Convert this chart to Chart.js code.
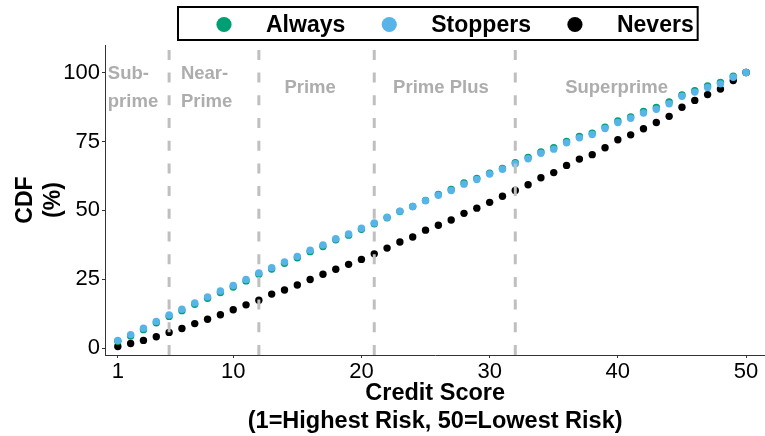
<!DOCTYPE html>
<html>
<head>
<meta charset="utf-8">
<script src="https://cdn.jsdelivr.net/npm/chart.js@4.4.1/dist/chart.umd.min.js"></script>
<style>
  html, body { margin: 0; padding: 0; background: #ffffff; overflow: hidden; width: 765px; height: 436px; }
  canvas { display: block; }
</style>
</head>
<body>
<canvas id="cdf" width="769" height="436"></canvas>
<script>
// Credit score buckets 1..50
const creditScores = Array.from({ length: 50 }, (_, i) => i + 1);

// Cumulative share (%) of each group at or below each credit score
const alwaysCdf = [
  2.5, 4.4, 6.7, 9.2, 11.5, 13.6, 15.9, 18.1, 20.2, 22.2,
  24.4, 26.8, 28.7, 30.8, 32.8, 35.0, 36.9, 39.3, 41.0, 43.1,
  45.1, 47.3, 49.6, 51.4, 53.6, 55.8, 57.6, 59.9, 61.6, 63.5,
  65.2, 67.3, 69.2, 71.2, 72.7, 75.0, 76.8, 78.0, 80.2, 82.4,
  83.9, 85.9, 87.3, 89.3, 91.9, 93.4, 95.1, 96.4, 98.7, 100
];
const stoppersCdf = [
  2.8, 4.9, 7.2, 9.7, 12.0, 14.1, 16.4, 18.6, 20.7, 22.7,
  24.9, 27.3, 29.2, 31.3, 33.3, 35.5, 37.4, 39.7, 41.4, 43.5,
  45.4, 47.5, 49.7, 51.4, 53.5, 55.5, 57.2, 59.5, 61.2, 63.2,
  64.9, 66.9, 68.7, 70.7, 72.2, 74.5, 76.3, 77.5, 79.7, 81.9,
  83.4, 85.3, 86.7, 88.7, 91.4, 92.9, 94.6, 95.9, 98.3, 100
];
const neversCdf = [
  0.6, 1.7, 2.8, 4.1, 5.7, 7.1, 8.9, 10.5, 12.1, 13.9,
  15.7, 17.4, 19.6, 21.1, 22.9, 24.9, 26.8, 28.6, 30.4, 32.2,
  34.2, 36.3, 38.5, 40.3, 42.8, 44.6, 46.5, 48.9, 50.8, 52.9,
  55.1, 57.2, 59.3, 61.8, 63.7, 66.3, 68.6, 70.2, 72.7, 75.6,
  77.4, 79.6, 81.9, 84.1, 87.4, 89.9, 92.0, 94.0, 97.1, 100
];

// Tick values
const xTicks = [1, 10, 20, 30, 40, 50];
const yTicks = [0, 25, 50, 75, 100];

// Risk tier boundaries (credit score) and tier names
const tierCutoffs = [5, 12, 21, 32];
const tierNames = [['Sub-', 'prime'], ['Near-', 'Prime'], ['Prime'], ['Prime Plus'], ['Superprime']];

// Where each tier name sits (data coordinates of its first line) and how it aligns
const tierLabelX = [0.22, 5.92, 16.0, 26.2, 39.9];
const tierLabelY = [99.6, 99.6, 94.6, 94.6, 94.6];
const tierLabelAlign = ['left', 'left', 'center', 'center', 'center'];

const seriesNames = ['Always', 'Stoppers', 'Nevers'];
const seriesColors = ['#009E73', '#56B4E9', '#000000'];

const FONT = '"Liberation Sans", Arial, Helvetica, sans-serif';

const toPoints = ys => creditScores.map((x, i) => ({ x, y: ys[i] }));

// Dashed tier boundaries, tier names and the boxed legend
const overlay = {
  id: 'overlay',
  afterDatasetsDraw(chart) {
    const { ctx, chartArea: a, scales: { x, y } } = chart;
    ctx.save();
    ctx.beginPath();
    ctx.rect(a.left, a.top, a.right - a.left, a.bottom - a.top);
    ctx.clip();
    ctx.strokeStyle = '#bfbfbf';
    ctx.lineWidth = 3;
    ctx.lineCap = 'butt';
    ctx.setLineDash([10, 12.7]);
    tierCutoffs.forEach(c => {
      const px = x.getPixelForValue(c);
      ctx.beginPath();
      ctx.moveTo(px, a.bottom);
      ctx.lineTo(px, a.top);
      ctx.stroke();
    });
    ctx.restore();

    ctx.save();
    ctx.fillStyle = '#adadad';
    ctx.font = 'bold 18.5px ' + FONT;
    ctx.textBaseline = 'middle';
    tierNames.forEach((lines, i) => {
      const px = x.getPixelForValue(tierLabelX[i]);
      const py = y.getPixelForValue(tierLabelY[i]);
      ctx.textAlign = tierLabelAlign[i];
      lines.forEach((t, k) => ctx.fillText(t, px, py + k * 28));
    });
    ctx.restore();
  },
  afterDraw(chart) {
    const { ctx } = chart;
    ctx.save();
    ctx.font = 'bold 23px ' + FONT;
    ctx.textBaseline = 'alphabetic';
    ctx.textAlign = 'left';
    const boxLeft = 178, boxTop = 7, boxBottom = 40;
    let cursor = boxLeft + 46;
    seriesNames.forEach((name, i) => {
      ctx.fillStyle = seriesColors[i];
      ctx.beginPath();
      ctx.arc(cursor, 24.5, 7.6, 0, Math.PI * 2);
      ctx.fill();
      const tx = cursor + 42;
      ctx.fillStyle = '#000000';
      ctx.fillText(name, tx, 32);
      cursor = tx + ctx.measureText(name).width + 44;
    });
    const boxRight = cursor - 44 + 4;
    ctx.strokeStyle = '#000000';
    ctx.lineWidth = 2;
    ctx.strokeRect(boxLeft, boxTop, boxRight - boxLeft, boxBottom - boxTop);
    ctx.restore();
  }
};

const datasets = [
  { label: seriesNames[0], data: toPoints(alwaysCdf), backgroundColor: seriesColors[0], order: 1 },
  { label: seriesNames[1], data: toPoints(stoppersCdf), backgroundColor: seriesColors[1], order: 0 },
  { label: seriesNames[2], data: toPoints(neversCdf), backgroundColor: seriesColors[2], order: 2 }
].map(d => Object.assign(d, {
  pointRadius: 3.7,
  pointHoverRadius: 3.7,
  pointBorderWidth: 0,
  borderWidth: 0,
  showLine: false
}));

new Chart(document.getElementById('cdf'), {
  type: 'scatter',
  data: { datasets },
  options: {
    responsive: false,
    devicePixelRatio: 1,
    animation: false,
    events: [],
    layout: { padding: { top: 45, left: 0, right: 0, bottom: 0 } },
    plugins: {
      legend: { display: false },
      tooltip: { enabled: false }
    },
    scales: {
      x: {
        type: 'linear',
        min: 0,
        max: 51.5,
        afterBuildTicks: s => { s.ticks = xTicks.map(v => ({ value: v })); },
        afterFit: s => { s.height = 81; s.paddingLeft = 0; s.paddingRight = 0; },
        ticks: {
          color: '#000000',
          font: { family: FONT, size: 22 },
          padding: 1,
          maxRotation: 0,
          autoSkip: false
        },
        grid: { display: true, drawOnChartArea: false, drawTicks: true, tickLength: 3, tickColor: '#333333' },
        border: { display: true, color: '#333333', width: 1 },
        title: {
          display: true,
          text: ['Credit Score', '(1=Highest Risk, 50=Lowest Risk)'],
          color: '#000000',
          font: { family: FONT, size: 23.5, weight: 'bold', lineHeight: 1.2 },
          padding: { top: 0, bottom: 0 }
        }
      },
      y: {
        type: 'linear',
        min: -2.5,
        max: 110,
        afterBuildTicks: s => { s.ticks = yTicks.map(v => ({ value: v })); },
        afterFit: s => { s.width = 105; s.paddingTop = 0; s.paddingBottom = 0; },
        ticks: {
          color: '#000000',
          font: { family: FONT, size: 22 },
          padding: 2,
          autoSkip: false
        },
        grid: { display: true, drawOnChartArea: false, drawTicks: true, tickLength: 3, tickColor: '#333333' },
        border: { display: true, color: '#333333', width: 1 },
        title: {
          display: true,
          text: ['CDF', '(%)'],
          color: '#000000',
          font: { family: FONT, size: 23, weight: 'bold', lineHeight: 1.2 },
          padding: { top: 12, bottom: 0 }
        }
      }
    }
  },
  plugins: [overlay]
});
</script>
</body>
</html>
